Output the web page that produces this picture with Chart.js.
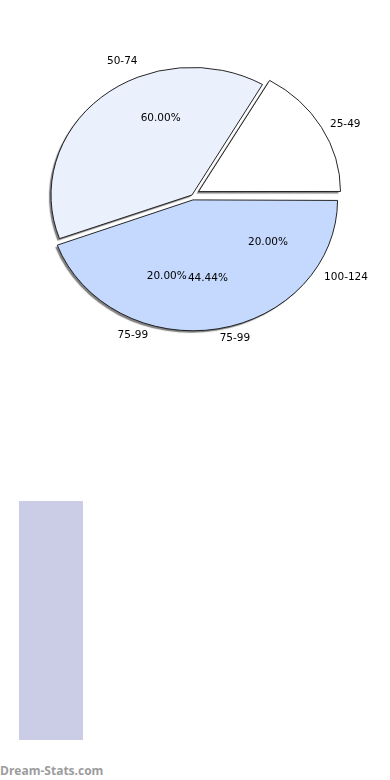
<!DOCTYPE html>
<html lang="en">
<head>
  <meta charset="UTF-8">
  <meta name="viewport" content="width=device-width, initial-scale=1.0">
  <title>Age groups pie</title>
  <script src="https://cdn.jsdelivr.net/npm/chart.js"></script>
  <style>
    body {
      margin: 0;
      width: 390px;
      height: 780px;
      background: #fff;
      position: relative;
      overflow: hidden;
      font-family: "DejaVu Sans", sans-serif;
    }
    .pie {
      position: absolute;
      left: 0;
      top: 0;
    }
    #bar {
      position: absolute;
      left: 19px;
      top: 501px;
      width: 64px;
      height: 239px;
      background: #cbcce5;
    }
    #brand {
      position: absolute;
      left: 0;
      top: 762px;
      font-family: "Open Sans", sans-serif;
      font-weight: bold;
      font-size: 12px;
      color: #9c9c9c;
    }
  </style>
</head>
<body>
  <canvas id="pieMain" class="pie" width="390" height="390"></canvas>
  <canvas id="pieOver" class="pie" width="390" height="390"></canvas>
  <div id="bar"></div>
  <div id="brand">Dream-Stats.com</div>

  <script>
    // drawn pie (clockwise from 3 o'clock)
    const mainLabels = ['75-99', '50-74', '25-49'];
    const mainValues = [8, 7, 3];
    const mainColors = ['#c5d9fe', '#eaf1fd', '#ffffff'];
    const mainOffsets = [22, 0, 30];
    const mainOuterText = ['75-99', '', '25-49'];
    const mainInnerText = ['44.44%', '', ''];

    // second pie layered on top, only its labels show
    const overLabels = ['50-74', '100-124', '75-99'];
    const overValues = [3, 1, 1];
    const overOuterText = ['50-74', '100-124', '75-99'];
    const overInnerText = ['60.00%', '20.00%', '20.00%'];

    const squash = 0.905;   // pie is drawn a bit flattened
    const pieRadius = 141;

    function centerOf(chart) {
      const a = chart.chartArea;
      return { x: (a.left + a.right) / 2, y: (a.top + a.bottom) / 2 };
    }

    // flatten the pie and give the fills a small drop shadow (outlines stay clean)
    const flatten = {
      id: 'flatten',
      beforeDatasetsDraw(chart) {
        const ctx = chart.ctx;
        const c = centerOf(chart);
        ctx.save();
        ctx.translate(c.x, c.y);
        ctx.scale(1, squash);
        ctx.translate(-c.x, -c.y);
        ctx.shadowColor = 'rgba(0,0,0,0.5)';
        ctx.shadowOffsetX = -2;
        ctx.shadowOffsetY = 2;
        ctx.shadowBlur = 1;
        const stroke = ctx.stroke;
        ctx._origStroke = stroke;
        ctx.stroke = function (...a) {
          this.save();
          this.shadowColor = 'rgba(0,0,0,0)';
          stroke.apply(this, a);
          this.restore();
        };
      },
      afterDatasetsDraw(chart) {
        const ctx = chart.ctx;
        ctx.stroke = ctx._origStroke;
        ctx.restore();
      }
    };

    const sliceText = {
      id: 'sliceText',
      afterDraw(chart, args, opts) {
        const ctx = chart.ctx;
        const c = centerOf(chart);
        const arcs = chart.getDatasetMeta(0).data;
        ctx.save();
        ctx.font = '10.5px "DejaVu Sans", sans-serif';
        ctx.fillStyle = '#000';
        ctx.textBaseline = 'alphabetic';
        arcs.forEach((arc, i) => {
          const p = arc.getProps(['startAngle', 'endAngle', 'outerRadius', 'x', 'y'], true);
          const mid = (p.startAngle + p.endAngle) / 2;
          const at = (k) => ({
            x: p.x + Math.cos(mid) * p.outerRadius * k,
            y: c.y + (p.y - c.y + Math.sin(mid) * p.outerRadius * k) * squash + 4
          });
          if (opts.outer[i]) {
            const q = at(1.13);
            ctx.textAlign = Math.cos(mid) >= 0 ? 'left' : 'right';
            ctx.fillText(opts.outer[i], q.x, q.y);
          }
          if (opts.inner[i]) {
            const q = at(0.65);
            ctx.textAlign = 'center';
            ctx.fillText(opts.inner[i], q.x, q.y);
          }
        });
        ctx.restore();
      }
    };

    Chart.defaults.font.family = '"DejaVu Sans", sans-serif';

    new Chart(document.getElementById('pieMain'), {
      type: 'pie',
      data: {
        labels: mainLabels,
        datasets: [{
          data: mainValues,
          backgroundColor: mainColors,
          borderColor: '#1a1a1a',
          borderWidth: 1,
          offset: mainOffsets
        }]
      },
      options: {
        responsive: false,
        animation: false,
        events: [],
        rotation: 90,
        radius: pieRadius,
        layout: { padding: { right: 6 } },
        plugins: {
          legend: { display: false },
          tooltip: { enabled: false },
          sliceText: { outer: mainOuterText, inner: mainInnerText }
        }
      },
      plugins: [flatten, sliceText]
    });

    new Chart(document.getElementById('pieOver'), {
      type: 'pie',
      data: {
        labels: overLabels,
        datasets: [{
          data: overValues,
          backgroundColor: 'rgba(0,0,0,0)',
          borderWidth: 0
        }]
      },
      options: {
        responsive: false,
        animation: false,
        events: [],
        rotation: 232,
        radius: pieRadius,
        layout: { padding: { right: 6 } },
        plugins: {
          legend: { display: false },
          tooltip: { enabled: false },
          sliceText: { outer: overOuterText, inner: overInnerText }
        }
      },
      plugins: [sliceText]
    });
  </script>
</body>
</html>
